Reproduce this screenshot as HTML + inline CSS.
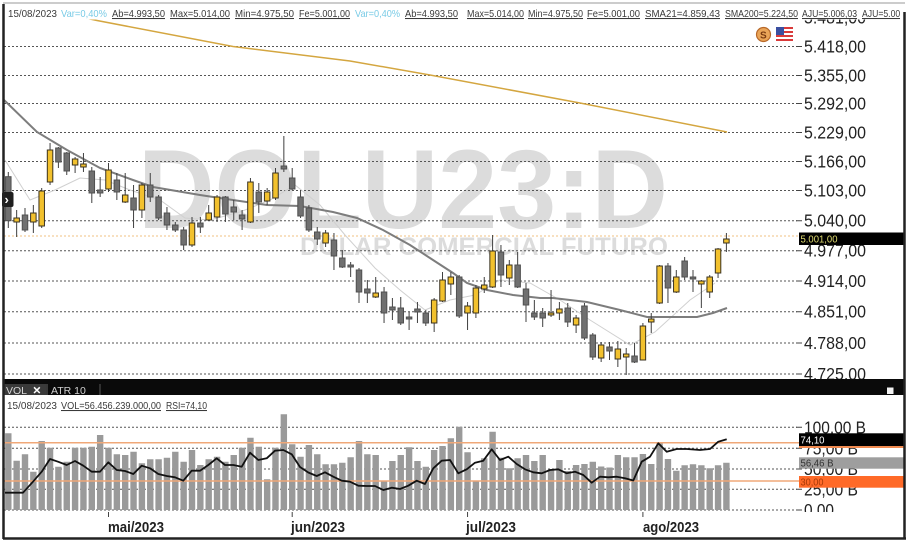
<!DOCTYPE html>
<html><head><meta charset="utf-8"><style>
html,body{margin:0;padding:0;background:#fff;}
svg{display:block;}
text{font-family:"Liberation Sans",Arial,sans-serif;}
.g{fill:#707070;stroke:#505050;stroke-width:1;}
.y{fill:#f2c12e;stroke:#3a3220;stroke-width:1;}
.ax{font-size:17.5px;fill:#222;}
.hd{font-size:10.5px;fill:#3a3a3a;}
.u{text-decoration:underline;}
.cy{font-size:10.5px;fill:#79cbe6;}
</style></head><body>
<svg width="911" height="546" viewBox="0 0 911 546" xmlns="http://www.w3.org/2000/svg">
<defs>
<clipPath id="cm"><rect x="4" y="19.5" width="900" height="359.5"/></clipPath>
<clipPath id="cv"><rect x="4" y="396" width="900" height="116"/></clipPath>
<clipPath id="ch"><rect x="0" y="0" width="900" height="30"/></clipPath>
</defs>
<rect width="911" height="546" fill="#fff"/>

<!-- MAIN PANEL -->
<g clip-path="url(#cm)">
<text x="138" y="228" font-size="112" font-weight="bold" fill="#dcdcdc" textLength="530" lengthAdjust="spacingAndGlyphs">DOLU23:D</text>
<text x="300" y="255" font-size="25" font-weight="bold" fill="#dcdcdc" textLength="368" lengthAdjust="spacingAndGlyphs">DOLAR COMERCIAL FUTURO</text>

<path d="M4 46.5H797M4 75.5H797M4 103.5H797M4 132.5H797M4 161.5H797M4 190.5H797M4 220.7H797M4 250.7H797M4 281H797M4 311.7H797M4 343H797M4 374H797" stroke="#555" stroke-width="1" stroke-dasharray="2 2" fill="none"/>
<path d="M796 46.5H802M796 75.5H802M796 103.5H802M796 132.5H802M796 161.5H802M796 190.5H802M796 220.7H802M796 250.7H802M796 281H802M796 311.7H802M796 343H802M796 374H802" stroke="#444" stroke-width="1" fill="none"/>
<path d="M4 236H798" stroke="#f0c080" stroke-width="1" stroke-dasharray="2 2" fill="none"/>

<polyline points="5,160 30,200 55,190 80,178 105,180 130,190 160,200 185,218 210,220 240,212 270,200 295,185 320,205 345,235 375,268 400,290 425,310 450,300 475,295 500,280 530,283 560,300 590,320 630,345 655,332 690,300 715,283" fill="none" stroke="#d0d0d0" stroke-width="1"/>
<polyline points="4,100 37,132 67,150 100,168 133,180 153,187 200,195 233,200 267,205 300,206 333,212 357,218 383,230 410,245 433,260 453,273 467,283 487,290 513,295 540,298 553,298 587,302 620,310 647,317 670,317 697,317 713,313 727,308" fill="none" stroke="#7d7d7d" stroke-width="2"/>
<polyline points="85,18 97,20.5 233,46.5 350,61 430,75 580,103 727,132" fill="none" stroke="#d4a640" stroke-width="1.5"/>

<path stroke="#404040" stroke-width="1" fill="none" d="M8.3 172V228M16.65 210V237M25 208V232M33.35 205V233M41.7 188V228M50.05 143V185M58.4 147V168M66.75 152V175M75.1 157V173M83.45 153V172M91.8 167V203M100.15 177V197M108.5 163V192M116.85 173V200M125.2 173V203M133.55 185V228M141.9 183V218M150.25 173V202M158.6 195V220M166.95 207V230M175.3 222V232M183.65 227V250M192 217V247M200.35 217V233M208.7 205V221M217.05 195V222M225.4 196V222M233.75 200V220M242.1 210V230M250.45 178V223M258.8 183V213M267.15 188V205M275.5 168V200M283.85 136V172M292.2 168V190M300.55 190V218M308.9 205V232M317.25 227V245M325.6 230V247M333.95 233V270M342.3 250V268M350.65 262V277M359 268V303M367.35 280V303M375.7 277V298M384.05 287V323M392.4 298V320M400.75 297V325M409.1 312V330M417.45 302V323M425.8 310V326M434.15 298V332M442.5 272V302M450.85 272V295M459.2 275V318M467.55 302V330M475.9 285V318M484.25 277V293M492.6 235V288M500.95 245V287M509.3 260V285M517.65 252V288M526 283V322M534.35 300V320M542.7 308V327M551.05 290V317M559.4 302V320M567.75 303V327M576.1 315V333M584.45 303V340M592.8 333V360M601.15 342V362M609.5 342V360M617.85 341V367M626.2 348V375M634.55 343V363M642.9 323V360M651.25 313V333M659.6 265V304M667.95 263V303M676.3 270V293M684.65 257V280M693 270V292M701.35 280V308M709.7 275V298M718.05 248V278M726.4 233V252"/>

<rect class="g" x="5.55" y="176.7" width="5.5" height="44"/>
<rect class="y" x="13.9" y="218" width="5.5" height="4"/>
<rect class="g" x="22.25" y="215" width="5.5" height="15"/>
<rect class="y" x="30.6" y="213" width="5.5" height="9"/>
<rect class="y" x="38.95" y="191" width="5.5" height="35"/>
<rect class="y" x="47.3" y="150" width="5.5" height="32"/>
<rect class="g" x="55.65" y="148" width="5.5" height="14"/>
<rect class="g" x="64" y="153" width="5.5" height="18"/>
<rect class="y" x="72.35" y="159" width="5.5" height="6"/>
<rect class="y" x="80.7" y="164" width="5.5" height="3"/>
<rect class="g" x="89.05" y="171" width="5.5" height="22"/>
<rect class="g" x="97.4" y="190" width="5.5" height="3"/>
<rect class="y" x="105.75" y="170" width="5.5" height="19"/>
<rect class="g" x="114.1" y="180" width="5.5" height="12"/>
<rect class="y" x="122.45" y="195" width="5.5" height="7"/>
<rect class="g" x="130.8" y="198" width="5.5" height="12"/>
<rect class="y" x="139.15" y="185" width="5.5" height="25"/>
<rect class="g" x="147.5" y="185" width="5.5" height="12"/>
<rect class="g" x="155.85" y="197" width="5.5" height="21"/>
<rect class="g" x="164.2" y="213" width="5.5" height="12"/>
<rect class="g" x="172.55" y="225" width="5.5" height="5"/>
<rect class="g" x="180.9" y="230" width="5.5" height="15"/>
<rect class="y" x="189.25" y="223" width="5.5" height="22"/>
<rect class="g" x="197.6" y="223" width="5.5" height="4"/>
<rect class="y" x="205.95" y="213" width="5.5" height="7"/>
<rect class="y" x="214.3" y="197" width="5.5" height="20"/>
<rect class="g" x="222.65" y="197" width="5.5" height="17"/>
<rect class="g" x="231" y="207" width="5.5" height="5"/>
<rect class="g" x="239.35" y="215" width="5.5" height="4"/>
<rect class="y" x="247.7" y="182" width="5.5" height="40"/>
<rect class="g" x="256.05" y="192" width="5.5" height="10"/>
<rect class="y" x="264.4" y="192" width="5.5" height="9"/>
<rect class="y" x="272.75" y="173" width="5.5" height="25"/>
<rect class="g" x="281.1" y="166" width="5.5" height="3"/>
<rect class="g" x="289.45" y="178" width="5.5" height="11"/>
<rect class="g" x="297.8" y="197" width="5.5" height="19"/>
<rect class="g" x="306.15" y="208" width="5.5" height="22"/>
<rect class="g" x="314.5" y="232" width="5.5" height="7"/>
<rect class="y" x="322.85" y="233" width="5.5" height="10"/>
<rect class="g" x="331.2" y="240" width="5.5" height="16"/>
<rect class="g" x="339.55" y="258" width="5.5" height="9"/>
<rect class="g" x="347.9" y="265" width="5.5" height="2"/>
<rect class="g" x="356.25" y="270" width="5.5" height="22"/>
<rect class="g" x="364.6" y="289" width="5.5" height="4"/>
<rect class="y" x="372.95" y="293" width="5.5" height="4"/>
<rect class="g" x="381.3" y="292" width="5.5" height="21"/>
<rect class="g" x="389.65" y="307" width="5.5" height="3"/>
<rect class="g" x="398" y="308" width="5.5" height="15"/>
<rect class="g" x="406.35" y="317" width="5.5" height="2"/>
<rect class="g" x="414.7" y="309" width="5.5" height="3"/>
<rect class="g" x="423.05" y="313" width="5.5" height="10"/>
<rect class="y" x="431.4" y="300" width="5.5" height="23"/>
<rect class="y" x="439.75" y="280" width="5.5" height="21"/>
<rect class="y" x="448.1" y="277" width="5.5" height="7"/>
<rect class="g" x="456.45" y="277" width="5.5" height="39"/>
<rect class="y" x="464.8" y="306" width="5.5" height="7"/>
<rect class="y" x="473.15" y="288" width="5.5" height="25"/>
<rect class="y" x="481.5" y="285" width="5.5" height="4"/>
<rect class="y" x="489.85" y="251" width="5.5" height="36"/>
<rect class="g" x="498.2" y="252" width="5.5" height="23"/>
<rect class="y" x="506.55" y="265" width="5.5" height="13"/>
<rect class="g" x="514.9" y="265" width="5.5" height="22"/>
<rect class="g" x="523.25" y="289" width="5.5" height="16"/>
<rect class="g" x="531.6" y="313" width="5.5" height="4"/>
<rect class="g" x="539.95" y="313" width="5.5" height="5"/>
<rect class="y" x="548.3" y="313" width="5.5" height="2"/>
<rect class="y" x="556.65" y="309" width="5.5" height="4"/>
<rect class="g" x="565" y="308" width="5.5" height="14"/>
<rect class="y" x="573.35" y="318" width="5.5" height="7"/>
<rect class="g" x="581.7" y="306" width="5.5" height="32"/>
<rect class="g" x="590.05" y="335" width="5.5" height="22"/>
<rect class="y" x="598.4" y="345" width="5.5" height="13"/>
<rect class="g" x="606.75" y="347" width="5.5" height="4"/>
<rect class="y" x="615.1" y="349" width="5.5" height="10"/>
<rect class="y" x="623.45" y="354" width="5.5" height="3"/>
<rect class="g" x="631.8" y="356" width="5.5" height="6"/>
<rect class="y" x="640.15" y="326" width="5.5" height="34"/>
<rect class="y" x="648.5" y="319" width="5.5" height="3"/>
<rect class="y" x="656.85" y="266" width="5.5" height="37"/>
<rect class="g" x="665.2" y="266" width="5.5" height="22"/>
<rect class="y" x="673.55" y="277" width="5.5" height="15"/>
<rect class="g" x="681.9" y="261" width="5.5" height="16"/>
<rect class="g" x="690.25" y="277" width="5.5" height="2"/>
<rect class="y" x="698.6" y="281" width="5.5" height="3"/>
<rect class="y" x="706.95" y="277" width="5.5" height="15"/>
<rect class="y" x="715.3" y="249" width="5.5" height="24"/>
<rect class="y" x="723.65" y="239" width="5.5" height="4"/>

<text class="ax" x="804" y="23.5" textLength="62" lengthAdjust="spacingAndGlyphs">5.481,00</text>
<text class="ax" x="804" y="52.5" textLength="62" lengthAdjust="spacingAndGlyphs">5.418,00</text>
<text class="ax" x="804" y="81.5" textLength="62" lengthAdjust="spacingAndGlyphs">5.355,00</text>
<text class="ax" x="804" y="109.5" textLength="62" lengthAdjust="spacingAndGlyphs">5.292,00</text>
<text class="ax" x="804" y="138.5" textLength="62" lengthAdjust="spacingAndGlyphs">5.229,00</text>
<text class="ax" x="804" y="167.5" textLength="62" lengthAdjust="spacingAndGlyphs">5.166,00</text>
<text class="ax" x="804" y="196.5" textLength="62" lengthAdjust="spacingAndGlyphs">5.103,00</text>
<text class="ax" x="804" y="226.7" textLength="62" lengthAdjust="spacingAndGlyphs">5.040,00</text>
<text class="ax" x="804" y="256.7" textLength="62" lengthAdjust="spacingAndGlyphs">4.977,00</text>
<text class="ax" x="804" y="287" textLength="62" lengthAdjust="spacingAndGlyphs">4.914,00</text>
<text class="ax" x="804" y="317.7" textLength="62" lengthAdjust="spacingAndGlyphs">4.851,00</text>
<text class="ax" x="804" y="349" textLength="62" lengthAdjust="spacingAndGlyphs">4.788,00</text>
<text class="ax" x="804" y="380" textLength="62" lengthAdjust="spacingAndGlyphs">4.725,00</text>

<rect x="799" y="232.5" width="106" height="12.5" fill="#000"/>
<text x="800.5" y="242.5" font-size="10" fill="#e0dc70" textLength="37" lengthAdjust="spacingAndGlyphs">5.001,00</text>
</g>

<!-- icons -->
<circle cx="763.5" cy="34.5" r="7" fill="#eaa558" stroke="#b8692a" stroke-width="1.2"/>
<text x="760" y="38.5" font-size="10" font-weight="bold" fill="#7a3a10">S</text>
<rect x="776" y="27" width="17" height="16" fill="#fff"/>
<path d="M776 27h17v2h-17zM776 31h17v2h-17zM776 35h17v2h-17zM776 39h17v2h-17z" fill="#d93a3a"/>
<rect x="776" y="27" width="8" height="8" fill="#3a4fa0"/>

<!-- header -->
<g clip-path="url(#ch)">
<text class="hd" x="8" y="17" textLength="49" lengthAdjust="spacingAndGlyphs">15/08/2023</text>
<text class="cy" x="61" y="17" textLength="46" lengthAdjust="spacingAndGlyphs">Var=0,40%</text>
<text class="hd u" x="112" y="17" textLength="53" lengthAdjust="spacingAndGlyphs">Ab=4.993,50</text>
<text class="hd u" x="170" y="17" textLength="60" lengthAdjust="spacingAndGlyphs">Max=5.014,00</text>
<text class="hd u" x="235" y="17" textLength="59" lengthAdjust="spacingAndGlyphs">Min=4.975,50</text>
<text class="hd u" x="299" y="17" textLength="51" lengthAdjust="spacingAndGlyphs">Fe=5.001,00</text>
<text class="cy" x="355" y="17" textLength="45" lengthAdjust="spacingAndGlyphs">Var=0,40%</text>
<text class="hd u" x="405" y="17" textLength="53" lengthAdjust="spacingAndGlyphs">Ab=4.993,50</text>
<text class="hd u" x="467" y="17" textLength="57" lengthAdjust="spacingAndGlyphs">Max=5.014,00</text>
<text class="hd u" x="528" y="17" textLength="55" lengthAdjust="spacingAndGlyphs">Min=4.975,50</text>
<text class="hd u" x="587" y="17" textLength="53" lengthAdjust="spacingAndGlyphs">Fe=5.001,00</text>
<text class="hd u" x="645" y="17" textLength="75" lengthAdjust="spacingAndGlyphs">SMA21=4.859,43</text>
<text class="hd u" x="725" y="17" textLength="73" lengthAdjust="spacingAndGlyphs">SMA200=5.224,50</text>
<text class="hd u" x="802" y="17" textLength="55" lengthAdjust="spacingAndGlyphs">AJU=5.006,03</text>
<text class="hd u" x="862" y="17" textLength="55" lengthAdjust="spacingAndGlyphs">AJU=5.006,03</text>
</g>

<!-- left button -->
<rect x="2" y="192" width="11.5" height="15" rx="2" fill="#1e1e1e"/>
<text x="4.5" y="204" font-size="13" font-weight="bold" fill="#fff">›</text>

<!-- separator band -->
<rect x="3" y="379" width="902" height="16" fill="#0a0a0a"/>
<rect x="4" y="384" width="42" height="11" fill="#3a3a3a"/>
<line x1="47" y1="384" x2="47" y2="395" stroke="#666" stroke-width="1"/>
<line x1="100" y1="384" x2="100" y2="395" stroke="#555" stroke-width="1"/>
<text x="6" y="394" font-size="10.5" fill="#d8d8d8">VOL</text>
<text x="32.5" y="394" font-size="10.5" font-weight="bold" fill="#fff">✕</text>
<text x="51" y="394" font-size="10.5" fill="#d0d0d0">ATR 10</text>
<rect x="887" y="387.5" width="6.5" height="6.5" fill="#f2f2f2"/>

<!-- sub header -->
<text class="hd" x="7" y="409" textLength="50" lengthAdjust="spacingAndGlyphs">15/08/2023</text>
<text class="hd u" x="61" y="409" textLength="100" lengthAdjust="spacingAndGlyphs">VOL=56.456.239.000,00</text>
<text class="hd u" x="166" y="409" textLength="41" lengthAdjust="spacingAndGlyphs">RSI=74,10</text>

<!-- VOLUME PANEL -->
<g clip-path="url(#cv)">
<path d="M4 427.3H797M4 448.3H797M4 469H797M4 489.3H797M4 510H797" stroke="#555" stroke-width="1" stroke-dasharray="2 2" fill="none"/>
<path d="M796 427.3H802M796 448.3H802M796 469H802M796 489.3H802M796 510H802" stroke="#444" stroke-width="1" fill="none"/>
<path fill="#9a9a9a" d="M5.1 510V433.3h6.4V510ZM13.45 510V460.7h6.4V510ZM21.8 510V454.3h6.4V510ZM30.15 510V471.7h6.4V510ZM38.5 510V441h6.4V510ZM46.85 510V447.7h6.4V510ZM55.2 510V466.7h6.4V510ZM63.55 510V461.7h6.4V510ZM71.9 510V447.7h6.4V510ZM80.25 510V447.7h6.4V510ZM88.6 510V446.7h6.4V510ZM96.95 510V435h6.4V510ZM105.3 510V447.7h6.4V510ZM113.65 510V454.3h6.4V510ZM122 510V455h6.4V510ZM130.35 510V451.7h6.4V510ZM138.7 510V463.3h6.4V510ZM147.05 510V459.3h6.4V510ZM155.4 510V459.3h6.4V510ZM163.75 510V457.7h6.4V510ZM172.1 510V451.7h6.4V510ZM180.45 510V461.7h6.4V510ZM188.8 510V450h6.4V510ZM197.15 510V465h6.4V510ZM205.5 510V459.3h6.4V510ZM213.85 510V456.7h6.4V510ZM222.2 510V461.7h6.4V510ZM230.55 510V455h6.4V510ZM238.9 510V447.7h6.4V510ZM247.25 510V437.7h6.4V510ZM255.6 510V446.7h6.4V510ZM263.95 510V479.3h6.4V510ZM272.3 510V447.7h6.4V510ZM280.65 510V414.3h6.4V510ZM289 510V444.3h6.4V510ZM297.35 510V456.7h6.4V510ZM305.7 510V445h6.4V510ZM314.05 510V454.3h6.4V510ZM322.4 510V464.3h6.4V510ZM330.75 510V464.3h6.4V510ZM339.1 510V462.7h6.4V510ZM347.45 510V457.3h6.4V510ZM355.8 510V441h6.4V510ZM364.15 510V454.3h6.4V510ZM372.5 510V455h6.4V510ZM380.85 510V480.7h6.4V510ZM389.2 510V461h6.4V510ZM397.55 510V455h6.4V510ZM405.9 510V447.3h6.4V510ZM414.25 510V461h6.4V510ZM422.6 510V466.7h6.4V510ZM430.95 510V450h6.4V510ZM439.3 510V446h6.4V510ZM447.65 510V438.3h6.4V510ZM456 510V426.7h6.4V510ZM464.35 510V452.3h6.4V510ZM472.7 510V481h6.4V510ZM481.05 510V458.3h6.4V510ZM489.4 510V431.7h6.4V510ZM497.75 510V457.7h6.4V510ZM506.1 510V468.3h6.4V510ZM514.45 510V458.3h6.4V510ZM522.8 510V455h6.4V510ZM531.15 510V461h6.4V510ZM539.5 510V455h6.4V510ZM547.85 510V469.3h6.4V510ZM556.2 510V460h6.4V510ZM564.55 510V471h6.4V510ZM572.9 510V465h6.4V510ZM581.25 510V464h6.4V510ZM589.6 510V461.7h6.4V510ZM597.95 510V466.5h6.4V510ZM606.3 510V467.5h6.4V510ZM614.65 510V455h6.4V510ZM623 510V457.3h6.4V510ZM631.35 510V457.3h6.4V510ZM639.7 510V454h6.4V510ZM648.05 510V464h6.4V510ZM656.4 510V443.3h6.4V510ZM664.75 510V459h6.4V510ZM673.1 510V470.7h6.4V510ZM681.45 510V465.3h6.4V510ZM689.8 510V464.3h6.4V510ZM698.15 510V465.3h6.4V510ZM706.5 510V468.3h6.4V510ZM714.85 510V465.3h6.4V510ZM723.2 510V462.7h6.4V510Z"/>
<path d="M4 442.7H800M4 481H800" stroke="#f0a878" stroke-width="1.5" fill="none"/>
<polyline fill="none" stroke="#111" stroke-width="1.8" stroke-linejoin="round" points="5,492.7 23,492.7 33,481.7 41.7,471.7 50,459 58,461.7 66.7,465 75,461 83.3,465.7 91.7,471.7 100,471.7 108.3,462.3 116.7,470 125,471 133.3,474 141.7,465.7 150,468.3 158.3,474 166.7,476 175,477.3 183.3,480.7 191.7,470.7 200,470.7 208.3,465 216.7,458.3 225,465 233.3,465 241.7,466.7 250,452.7 258.3,460 266.7,458.3 275,450.7 283.3,450 291.7,454.3 300,467 308.3,472.5 316.7,476 325,472.3 333.3,476.7 341.7,480.7 350,481.7 358.3,485.7 366.7,486 375,486 383.3,490 391.7,487.7 400,489 408.3,485.7 416.7,480.7 425,484 433.3,468.3 441.7,460.7 450,460 458.3,473.3 466.7,469.3 475,462.7 483.3,460.7 491.7,449.3 500,460 508.3,456.7 516.7,464 525,469.3 533.3,472.3 541.7,473.3 550,470 558.3,469.3 566.7,473.3 575,471.7 583.3,475 591.7,482.7 600,476.7 608.3,477.3 616.7,476.7 625,478.3 633.3,480.5 641.7,461.7 650,456.7 658.3,443.3 666.7,451.7 676.7,449 686.7,449 700,450 710,449 718.3,441.7 726.7,439.3"/>

<text class="ax" x="804" y="433.3" textLength="62" lengthAdjust="spacingAndGlyphs">100,00 B</text>
<text class="ax" x="804" y="454.3" textLength="54" lengthAdjust="spacingAndGlyphs">75,00 B</text>
<text class="ax" x="804" y="475" textLength="54" lengthAdjust="spacingAndGlyphs">50,00 B</text>
<text class="ax" x="804" y="495.3" textLength="54" lengthAdjust="spacingAndGlyphs">25,00 B</text>
<text class="ax" x="804" y="516" textLength="30" lengthAdjust="spacingAndGlyphs">0,00</text>

<rect x="799" y="440" width="106" height="8" fill="#f08a50"/>
<rect x="799" y="433.3" width="106" height="12.7" fill="#000"/>
<text x="800.5" y="443.5" font-size="10" fill="#fff" textLength="24" lengthAdjust="spacingAndGlyphs">74,10</text>
<rect x="799" y="457.3" width="106" height="11.4" fill="#9e9e9e"/>
<text x="800.5" y="466.5" font-size="10" fill="#333" textLength="33" lengthAdjust="spacingAndGlyphs">56,46 B</text>
<rect x="799" y="476" width="106" height="11.7" fill="#ff6a28"/>
<text x="800.5" y="485.3" font-size="10" fill="#a83a08" textLength="23" lengthAdjust="spacingAndGlyphs">30,00</text>
</g>

<!-- date axis -->
<path d="M108.5 512V517M292.2 512V517M467.55 512V517M642.9 512V517" stroke="#444" stroke-width="1"/>
<text x="108" y="532" font-size="15" font-weight="bold" fill="#222" textLength="56" lengthAdjust="spacingAndGlyphs">mai/2023</text>
<text x="291" y="532" font-size="15" font-weight="bold" fill="#222" textLength="54" lengthAdjust="spacingAndGlyphs">jun/2023</text>
<text x="466" y="532" font-size="15" font-weight="bold" fill="#222" textLength="50" lengthAdjust="spacingAndGlyphs">jul/2023</text>
<text x="643" y="532" font-size="15" font-weight="bold" fill="#222" textLength="56" lengthAdjust="spacingAndGlyphs">ago/2023</text>

<!-- frame -->
<line x1="3" y1="3" x2="905" y2="3" stroke="#9a9a9a" stroke-width="1"/>
<line x1="3.5" y1="4" x2="3.5" y2="539" stroke="#222" stroke-width="2.5"/>
<line x1="904.5" y1="12" x2="904.5" y2="539" stroke="#222" stroke-width="2.5"/>
<line x1="3" y1="538.5" x2="906" y2="538.5" stroke="#222" stroke-width="2.5"/>
</svg>
</body></html>
